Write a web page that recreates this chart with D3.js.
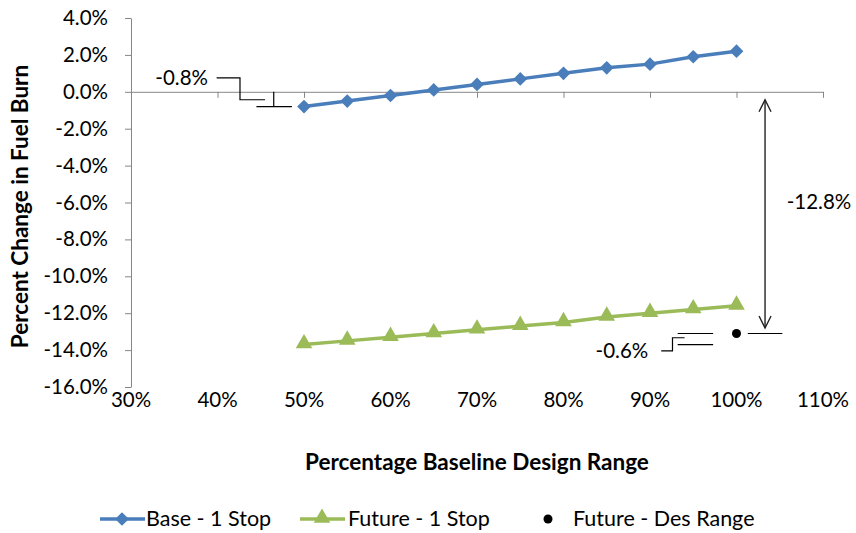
<!DOCTYPE html>
<html><head><meta charset="utf-8">
<script src="https://cdn.jsdelivr.net/npm/d3@7"></script>
<style>body{margin:0;background:#fff} text{font-family:Lato,"Open Sans",sans-serif;fill:#000}</style>
</head><body><svg id="c" width="856" height="533"></svg>
<script>
const xValues = [50,55,60,65,70,75,80,85,90,95,100];
const baseOneStop = [-0.8,-0.5,-0.2,0.1,0.4,0.7,1.0,1.3,1.5,1.9,2.2];
const futureOneStop = [-13.7,-13.5,-13.3,-13.1,-12.9,-12.7,-12.5,-12.2,-12.0,-11.8,-11.6];
const futureDesRangeX = [100];
const futureDesRangeY = [-13.1];
const xTicks = [30,40,50,60,70,80,90,100,110];
const yTicks = [4,2,0,-2,-4,-6,-8,-10,-12,-14,-16];
const seriesNames = ["Base - 1 Stop","Future - 1 Stop","Future - Des Range"];
const annotationLabels = ["-0.8%","-12.8%","-0.6%"];

const FS = "20.5px", FT = "22.5px", FL = "21.5px";
const svg = d3.select("#c");
const x = d3.scaleLinear([30,110],[131,823]);
const y = d3.scaleLinear([-16,4],[387,18]);
const axisColor = "#868686";
const blue = "#4A7EBB", green = "#9BBB59";

// y axis
const ya = svg.append("g").attr("transform",`translate(${x(30)},0)`)
  .call(d3.axisLeft(y).tickValues(yTicks).tickSize(6).tickSizeOuter(0).tickPadding(17).tickFormat(d=>d.toFixed(1)+"%"));
ya.select(".domain").attr("stroke",axisColor);
ya.selectAll(".tick line").attr("stroke",axisColor);
ya.selectAll(".tick text").style("font-size",FS).style("font-family","Lato").attr("fill","#000");

// x axis at zero line
const xa = svg.append("g").attr("transform",`translate(0,${y(0)})`)
  .call(d3.axisBottom(x).tickValues(xTicks).tickSize(6).tickSizeOuter(0).tickFormat(""));
xa.select(".domain").attr("stroke",axisColor);
xa.selectAll(".tick line").attr("stroke",axisColor);
svg.append("g").selectAll("text").data(xTicks).join("text")
  .attr("x",d=>x(d)).attr("y",y(-16)+20).attr("text-anchor","middle")
  .style("font-size",FS).text(d=>d+"%");

// axis titles
svg.append("text").attr("transform",`translate(28,${(y(4)+y(-16))/2+4}) rotate(-90)`)
  .attr("text-anchor","middle").style("font-size",FT).style("font-weight","bold")
  .text("Percent Change in Fuel Burn");
svg.append("text").attr("x",(x(30)+x(110))/2+0).attr("y",470).attr("text-anchor","middle")
  .style("font-size",FT).style("font-weight","bold").text("Percentage Baseline Design Range");

// series
const line = d3.line().x(d=>x(d[0])).y(d=>y(d[1]));
const baseData = xValues.map((v,i)=>[v,baseOneStop[i]]);
const futData = xValues.map((v,i)=>[v,futureOneStop[i]]);
const diamond = d3.symbol().type(d3.symbolDiamond2).size(120);
const tri = d3.symbol().type(d3.symbolTriangle).size(120);

svg.append("path").datum(baseData).attr("d",line).attr("fill","none").attr("stroke",blue).attr("stroke-width",3.5);
svg.append("g").selectAll("path").data(baseData).join("path")
  .attr("d",diamond).attr("transform",d=>`translate(${x(d[0])},${y(d[1])})`).attr("fill",blue);

svg.append("path").datum(futData).attr("d",line).attr("fill","none").attr("stroke",green).attr("stroke-width",3.5);
svg.append("g").selectAll("path").data(futData).join("path")
  .attr("d",tri).attr("transform",d=>`translate(${x(d[0])},${y(d[1])-1})`).attr("fill",green);

svg.append("g").selectAll("circle").data(futureDesRangeX.map((v,i)=>[v,futureDesRangeY[i]])).join("circle")
  .attr("cx",d=>x(d[0])).attr("cy",d=>y(d[1])).attr("r",4.5).attr("fill","#000");

// annotations (data coordinates)
const ann = svg.append("g").attr("fill","none").attr("stroke","#000").attr("stroke-width",1.2);
const pl = pts => ann.append("path").attr("d",d3.line().x(p=>x(p[0])).y(p=>y(p[1]))(pts));
// left -0.8% bracket
pl([[39.9,0.76],[42.6,0.76],[42.6,-0.43],[45.5,-0.43]]);
pl([[44.5,-0.8],[48.6,-0.8]]);
pl([[46.5,0],[46.5,-0.8]]);
svg.append("text").attr("x",x(38.9)).attr("y",y(0.76)+7).attr("text-anchor","end").style("font-size",FS).text(annotationLabels[0]);

// right double arrow -12.8%
const ax = 103.3, ytop = -0.43, ybot = -12.8;
const arr = svg.append("g").attr("fill","none").attr("stroke","#222").attr("stroke-width",1.4);
arr.append("line").attr("x1",x(ax)).attr("x2",x(ax)).attr("y1",y(ytop)).attr("y2",y(ybot));
arr.append("path").attr("d",`M${x(ax)-6},${y(ytop)+12}L${x(ax)},${y(ytop)}L${x(ax)+6},${y(ytop)+12}`);
arr.append("path").attr("d",`M${x(ax)-6},${y(ybot)-12}L${x(ax)},${y(ybot)}L${x(ax)+6},${y(ybot)-12}`);
pl([[101.3,-13.1],[105.3,-13.1]]);
svg.append("text").attr("x",x(105.8)).attr("y",y(-5.95)+7).style("font-size",FS).text(annotationLabels[1]);

// -0.6% annotation
pl([[93.2,-13.1],[97.3,-13.1]]);
pl([[93.2,-13.7],[97.3,-13.7]]);
pl([[91.3,-14.04],[92.6,-14.04],[92.6,-13.33],[94.0,-13.33]]);
svg.append("text").attr("x",x(89.8)).attr("y",y(-14.04)+7).attr("text-anchor","end").style("font-size",FS).text(annotationLabels[2]);

// legend
const lg = svg.append("g");
const ly = 519;
const legendX = [100,300,535];
lg.append("line").attr("x1",legendX[0]).attr("x2",legendX[0]+45).attr("y1",ly).attr("y2",ly).attr("stroke",blue).attr("stroke-width",3.5);
lg.append("path").attr("d",diamond).attr("transform",`translate(${legendX[0]+22},${ly})`).attr("fill",blue);
lg.append("text").attr("x",legendX[0]+46).attr("y",ly+7).style("font-size",FL).text(seriesNames[0]);
lg.append("line").attr("x1",legendX[1]).attr("x2",legendX[1]+45).attr("y1",ly).attr("y2",ly).attr("stroke",green).attr("stroke-width",3.5);
lg.append("path").attr("d",tri).attr("transform",`translate(${legendX[1]+22},${ly-1})`).attr("fill",green);
lg.append("text").attr("x",legendX[1]+48).attr("y",ly+7).style("font-size",FL).text(seriesNames[1]);
lg.append("circle").attr("cx",legendX[2]+13).attr("cy",ly).attr("r",4.5).attr("fill","#000");
lg.append("text").attr("x",legendX[2]+38).attr("y",ly+7).style("font-size",FL).text(seriesNames[2]);
</script></body></html>
